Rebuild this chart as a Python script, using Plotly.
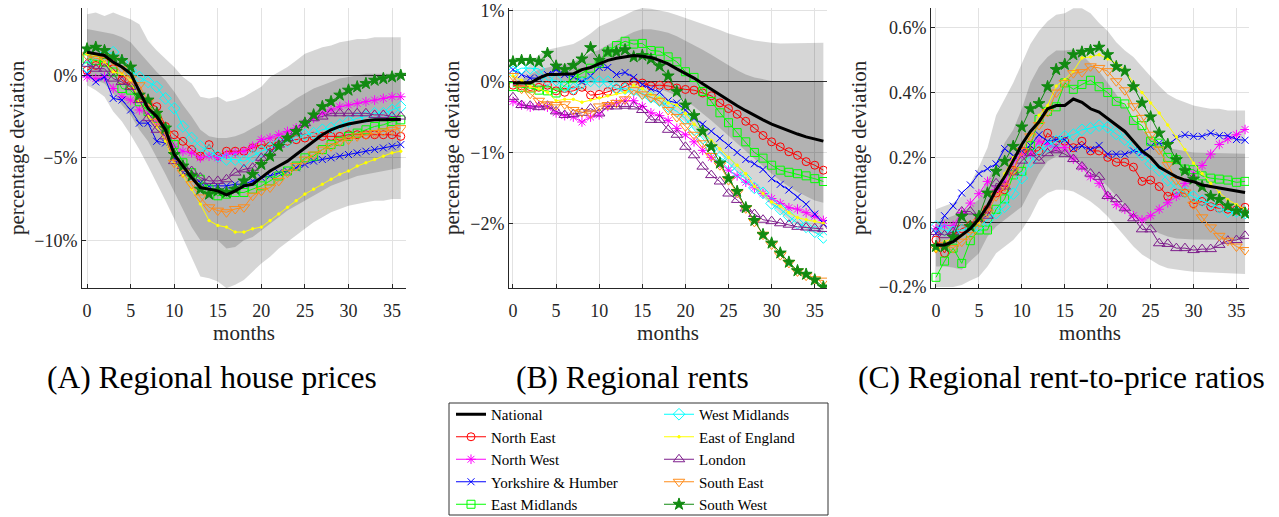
import plotly.graph_objects as go

months = list(range(37))

names = ["National", "North East", "North West", "Yorkshire & Humber", "East Midlands",
         "West Midlands", "East of England", "London", "South East", "South West"]

# ---------------- Panel A: regional house prices (%) ----------------
hp_national = [1.4, 1.3, 1.2, 0.8, 0.5, 0.1, -1.0, -2.0, -2.5, -3.3, -4.8, -5.5, -6.2, -6.8, -6.9, -7.0, -7.25, -7.0, -6.7, -6.6, -6.2, -5.8, -5.5, -5.2, -4.8, -4.4, -3.95, -3.6, -3.3, -3.1, -2.95, -2.85, -2.75, -2.7, -2.7, -2.68, -2.68]
hp_ne = [0.3, 0.6, 0.8, 0.4, -0.3, -0.6, -1.4, -1.7, -1.9, -3.1, -3.6, -4.0, -4.5, -4.9, -4.2, -4.9, -4.6, -4.6, -4.6, -4.4, -4.2, -4.3, -4.0, -4.0, -3.9, -3.8, -3.7, -3.7, -3.7, -3.7, -3.6, -3.6, -3.6, -3.6, -3.6, -3.6, -3.7]
hp_nw = [-0.1, -0.2, -0.1, -0.8, -1.3, -1.5, -2.1, -2.3, -2.8, -3.5, -4.3, -4.6, -4.7, -5.0, -4.9, -5.0, -4.8, -4.7, -4.6, -4.3, -3.9, -3.8, -3.6, -3.4, -3.2, -2.9, -2.6, -2.3, -2.1, -1.9, -1.8, -1.7, -1.6, -1.5, -1.4, -1.3, -1.3]
hp_yh = [0.1, -0.4, -0.1, -1.4, -1.5, -2.1, -2.9, -2.9, -4.0, -4.1, -5.0, -5.9, -6.2, -6.5, -6.7, -6.7, -6.7, -6.6, -6.6, -6.4, -6.2, -6.1, -5.9, -5.8, -5.6, -5.4, -5.2, -5.1, -5.0, -4.9, -4.8, -4.7, -4.6, -4.5, -4.4, -4.3, -4.2]
hp_em = [1.0, 0.9, 0.8, 0.2, -0.8, -0.9, -1.6, -2.2, -2.6, -3.3, -4.2, -5.3, -5.9, -6.3, -6.9, -7.3, -7.2, -7.1, -7.1, -6.9, -6.7, -6.4, -6.1, -5.8, -5.5, -5.0, -4.9, -4.5, -4.2, -4.0, -3.7, -3.5, -3.3, -3.1, -3.0, -2.8, -2.7]
hp_wm = [0.5, 1.3, 1.2, 1.4, 0.8, 0.3, -0.1, -0.4, -0.7, -1.4, -2.0, -3.1, -3.8, -4.3, -4.6, -4.9, -5.1, -5.1, -5.2, -4.9, -4.6, -4.4, -4.1, -4.0, -3.7, -3.6, -3.5, -3.3, -3.2, -3.0, -2.8, -2.6, -2.5, -2.3, -2.3, -2.1, -1.9]
hp_ee = [1.3, 1.2, 0.8, 0.2, 0.1, -0.3, -1.6, -2.5, -3.1, -4.0, -5.3, -6.1, -6.9, -7.8, -8.8, -9.1, -9.2, -9.5, -9.5, -9.3, -9.2, -8.8, -8.4, -8.0, -7.6, -7.2, -6.9, -6.6, -6.3, -6.0, -5.8, -5.5, -5.3, -5.1, -4.9, -4.7, -4.6]
hp_lon = [0.7, 0.4, 0.4, -0.2, -0.4, -0.7, -1.5, -2.6, -3.3, -3.7, -5.2, -5.5, -5.8, -6.2, -6.4, -6.4, -6.3, -5.9, -5.7, -5.6, -5.0, -4.7, -4.2, -3.8, -3.4, -2.9, -2.6, -2.5, -2.3, -2.3, -2.3, -2.3, -2.3, -2.4, -2.4, -2.5, -2.5]
hp_se = [1.2, 1.0, 1.1, 0.9, 0.4, -0.2, -0.6, -1.6, -2.8, -3.6, -5.3, -5.9, -6.6, -7.4, -8.0, -8.2, -8.3, -8.1, -8.0, -7.3, -7.0, -6.8, -6.4, -5.9, -5.5, -5.1, -4.8, -4.5, -4.3, -4.0, -3.9, -3.7, -3.6, -3.5, -3.4, -3.3, -3.2]
hp_sw = [1.6, 1.7, 1.5, 1.1, 0.9, 0.5, -1.2, -1.5, -2.3, -3.2, -4.8, -5.5, -6.1, -6.9, -7.2, -7.0, -7.1, -6.9, -6.4, -6.0, -5.4, -4.9, -4.3, -3.8, -3.4, -2.9, -2.4, -1.9, -1.6, -1.2, -0.9, -0.7, -0.5, -0.3, -0.2, -0.1, 0.0]
hp_outer_up = [3.7, 3.8, 3.6, 3.8, 3.6, 3.4, 3.1, 2.1, 1.5, 1.0, 0.5, -0.1, -0.5, -1.3, -1.4, -1.3, -1.6, -1.5, -1.3, -1.0, -0.7, -0.1, 0.2, 0.5, 0.9, 1.3, 1.5, 1.7, 1.8, 2.0, 2.1, 2.2, 2.2, 2.3, 2.3, 2.3, 2.3]
hp_inner_up = [2.8, 2.7, 2.6, 2.5, 2.3, 2.0, 1.4, 0.8, 0.2, -0.3, -1.0, -1.8, -2.5, -3.3, -3.7, -3.8, -3.8, -3.7, -3.5, -3.2, -2.9, -2.5, -2.1, -1.8, -1.4, -1.1, -0.8, -0.6, -0.4, -0.2, -0.1, 0.0, 0.1, 0.1, 0.1, 0.1, 0.1]
hp_inner_lo = [-0.2, -0.3, -0.5, -1.1, -1.8, -2.4, -3.3, -4.0, -5.0, -6.0, -7.0, -8.1, -9.2, -10.0, -10.0, -10.0, -10.5, -10.4, -10.0, -9.8, -9.4, -9.0, -8.6, -8.2, -7.9, -7.6, -7.3, -7.0, -6.7, -6.5, -6.3, -6.1, -6.0, -5.9, -5.8, -5.7, -5.6]
hp_outer_lo = [-0.6, -0.9, -1.3, -2.2, -2.8, -3.6, -4.5, -5.5, -6.5, -7.6, -8.7, -9.8, -11.0, -12.2, -12.3, -12.5, -12.9, -12.7, -12.4, -11.9, -11.4, -11.0, -10.5, -10.1, -9.7, -9.3, -8.9, -8.6, -8.3, -8.1, -7.9, -7.8, -7.7, -7.6, -7.6, -7.5, -7.5]

# ---------------- Panel B: regional rents (%) ----------------
r_national = [-0.02, -0.02, -0.02, 0.05, 0.1, 0.1, 0.11, 0.11, 0.17, 0.2, 0.25, 0.3, 0.33, 0.35, 0.37, 0.36, 0.34, 0.3, 0.25, 0.18, 0.12, 0.05, -0.03, -0.11, -0.19, -0.27, -0.34, -0.41, -0.48, -0.54, -0.6, -0.65, -0.7, -0.74, -0.78, -0.81, -0.84]
r_ne = [-0.05, -0.06, -0.07, -0.08, -0.05, -0.13, -0.15, -0.13, -0.08, -0.19, -0.18, -0.14, -0.1, -0.07, 0.0, -0.02, -0.06, -0.05, -0.06, -0.09, -0.11, -0.12, -0.16, -0.2, -0.3, -0.38, -0.46, -0.56, -0.66, -0.76, -0.85, -0.92, -0.99, -1.04, -1.13, -1.18, -1.25]
r_nw = [-0.28, -0.33, -0.36, -0.34, -0.36, -0.44, -0.48, -0.5, -0.57, -0.5, -0.47, -0.35, -0.3, -0.27, -0.27, -0.35, -0.44, -0.48, -0.55, -0.66, -0.75, -0.85, -0.97, -1.07, -1.15, -1.25, -1.33, -1.42, -1.5, -1.58, -1.65, -1.72, -1.78, -1.8, -1.85, -1.9, -1.96]
r_yh = [0.17, 0.1, 0.05, 0.05, 0.1, 0.17, 0.1, 0.07, 0.0, 0.08, 0.2, 0.2, 0.1, 0.13, 0.06, -0.04, -0.1, -0.15, -0.27, -0.3, -0.4, -0.52, -0.6, -0.7, -0.8, -0.9, -1.0, -1.1, -1.16, -1.24, -1.37, -1.45, -1.53, -1.63, -1.73, -1.87, -2.0]
r_em = [-0.07, -0.08, -0.09, -0.12, -0.13, -0.16, -0.06, 0.05, 0.12, 0.19, 0.26, 0.42, 0.51, 0.57, 0.53, 0.54, 0.44, 0.43, 0.35, 0.28, 0.14, 0.06, -0.14, -0.28, -0.44, -0.58, -0.72, -0.85, -1.0, -1.08, -1.18, -1.25, -1.28, -1.3, -1.33, -1.37, -1.41]
r_wm = [0.14, 0.19, 0.19, 0.18, 0.02, 0.02, -0.07, -0.1, -0.02, 0.01, 0.0, 0.0, -0.1, -0.1, -0.12, -0.17, -0.22, -0.27, -0.35, -0.42, -0.52, -0.68, -0.8, -0.95, -1.07, -1.15, -1.27, -1.37, -1.5, -1.57, -1.72, -1.8, -1.9, -2.0, -2.05, -2.12, -2.2]
r_ee = [0.08, 0.02, -0.07, -0.1, -0.15, -0.27, -0.25, -0.25, -0.29, -0.26, -0.23, -0.2, -0.17, -0.15, -0.05, -0.1, -0.18, -0.23, -0.3, -0.33, -0.45, -0.6, -0.7, -0.83, -0.95, -1.07, -1.18, -1.3, -1.48, -1.58, -1.7, -1.76, -1.85, -1.92, -1.95, -1.97, -2.0]
r_lon = [-0.22, -0.33, -0.34, -0.36, -0.34, -0.42, -0.47, -0.46, -0.44, -0.38, -0.45, -0.35, -0.35, -0.34, -0.35, -0.4, -0.54, -0.54, -0.68, -0.75, -0.92, -1.04, -1.2, -1.32, -1.41, -1.58, -1.67, -1.79, -1.87, -1.95, -1.97, -2.0, -2.02, -2.05, -2.06, -2.07, -2.08]
r_se = [0.08, -0.1, -0.17, -0.27, -0.32, -0.33, -0.32, -0.4, -0.43, -0.45, -0.35, -0.33, -0.3, -0.25, -0.12, -0.18, -0.22, -0.27, -0.4, -0.5, -0.63, -0.75, -0.87, -1.05, -1.18, -1.39, -1.57, -1.79, -1.98, -2.16, -2.3, -2.45, -2.56, -2.68, -2.74, -2.79, -2.81]
r_sw = [0.28, 0.3, 0.3, 0.28, 0.4, 0.22, 0.17, 0.23, 0.32, 0.48, 0.3, 0.42, 0.42, 0.45, 0.35, 0.37, 0.32, 0.22, 0.08, -0.14, -0.33, -0.48, -0.7, -0.92, -1.15, -1.37, -1.55, -1.78, -1.96, -2.16, -2.28, -2.42, -2.55, -2.67, -2.72, -2.8, -2.9]
r_outer_up = [0.05, 0.1, 0.25, 0.38, 0.45, 0.48, 0.5, 0.53, 0.6, 0.68, 0.78, 0.83, 0.88, 0.94, 1.0, 1.04, 1.03, 1.01, 0.98, 0.94, 0.9, 0.86, 0.82, 0.78, 0.73, 0.68, 0.64, 0.61, 0.58, 0.56, 0.55, 0.54, 0.54, 0.54, 0.54, 0.55, 0.55]
r_inner_up = [0.0, 0.03, 0.1, 0.17, 0.2, 0.22, 0.25, 0.28, 0.33, 0.4, 0.45, 0.52, 0.58, 0.65, 0.7, 0.74, 0.74, 0.72, 0.69, 0.64, 0.58, 0.52, 0.45, 0.38, 0.3, 0.23, 0.16, 0.1, 0.06, 0.03, 0.01, 0.0, 0.0, 0.0, 0.0, 0.0, 0.0]
r_inner_lo = [-0.02, -0.03, -0.03, -0.03, -0.03, -0.03, -0.03, -0.03, -0.03, -0.03, -0.02, -0.02, -0.02, -0.02, -0.02, -0.04, -0.07, -0.1, -0.15, -0.2, -0.27, -0.35, -0.45, -0.55, -0.65, -0.76, -0.87, -0.98, -1.09, -1.2, -1.3, -1.4, -1.48, -1.56, -1.62, -1.68, -1.71]
r_outer_lo = [-0.05, -0.08, -0.1, -0.12, -0.13, -0.13, -0.13, -0.13, -0.13, -0.13, -0.13, -0.13, -0.14, -0.15, -0.18, -0.22, -0.27, -0.33, -0.4, -0.48, -0.57, -0.67, -0.78, -0.9, -1.02, -1.14, -1.27, -1.4, -1.52, -1.64, -1.75, -1.86, -1.95, -2.03, -2.1, -2.14, -2.16]

# ---------------- Panel C: regional rent-to-price ratios (%) ----------------
c_national = [-0.07, -0.07, -0.06, -0.04, -0.02, 0.01, 0.05, 0.1, 0.14, 0.19, 0.24, 0.28, 0.31, 0.35, 0.36, 0.36, 0.38, 0.37, 0.35, 0.34, 0.32, 0.3, 0.28, 0.25, 0.22, 0.2, 0.17, 0.155, 0.14, 0.13, 0.125, 0.115, 0.11, 0.105, 0.1, 0.095, 0.092]
c_ne = [-0.055, -0.095, -0.04, -0.02, -0.01, 0.01, 0.04, 0.09, 0.1, 0.16, 0.22, 0.22, 0.22, 0.275, 0.25, 0.25, 0.23, 0.25, 0.22, 0.22, 0.2, 0.185, 0.185, 0.17, 0.126, 0.13, 0.11, 0.08, 0.09, 0.09, 0.057, 0.064, 0.048, 0.043, 0.04, 0.038, 0.046]
c_nw = [-0.02, -0.01, -0.01, 0.03, 0.059, 0.088, 0.126, 0.1, 0.12, 0.19, 0.21, 0.21, 0.25, 0.24, 0.23, 0.23, 0.195, 0.17, 0.14, 0.12, 0.08, 0.054, 0.04, 0.02, 0.007, 0.02, 0.04, 0.06, 0.08, 0.12, 0.15, 0.175, 0.21, 0.24, 0.257, 0.27, 0.286]
c_yh = [-0.034, 0.02, 0.05, 0.09, 0.115, 0.15, 0.165, 0.18, 0.227, 0.205, 0.22, 0.237, 0.27, 0.25, 0.255, 0.255, 0.227, 0.235, 0.224, 0.237, 0.21, 0.21, 0.21, 0.22, 0.215, 0.234, 0.244, 0.238, 0.26, 0.27, 0.265, 0.265, 0.275, 0.267, 0.267, 0.255, 0.253]
c_em = [-0.17, -0.12, -0.08, -0.127, -0.057, -0.024, -0.024, 0.04, 0.072, 0.146, 0.157, 0.236, 0.317, 0.342, 0.356, 0.43, 0.41, 0.425, 0.438, 0.418, 0.4, 0.373, 0.365, 0.314, 0.298, 0.25, 0.244, 0.2, 0.193, 0.164, 0.162, 0.143, 0.136, 0.133, 0.13, 0.123, 0.126]
c_wm = [-0.013, -0.024, -0.029, -0.024, -0.024, -0.013, 0.007, 0.028, 0.048, 0.088, 0.136, 0.186, 0.22, 0.234, 0.25, 0.265, 0.27, 0.285, 0.29, 0.298, 0.293, 0.272, 0.255, 0.234, 0.208, 0.18, 0.16, 0.13, 0.102, 0.092, 0.079, 0.066, 0.058, 0.046, 0.033, 0.033, 0.028]
c_ee = [-0.09, -0.06, -0.05, -0.04, -0.02, 0.0, 0.05, 0.1, 0.15, 0.2, 0.24, 0.27, 0.33, 0.36, 0.42, 0.44, 0.466, 0.507, 0.51, 0.517, 0.504, 0.49, 0.47, 0.43, 0.4, 0.368, 0.337, 0.3, 0.263, 0.224, 0.182, 0.15, 0.12, 0.092, 0.069, 0.054, 0.04]
c_lon = [-0.03, -0.04, -0.03, 0.033, 0.033, 0.01, 0.02, 0.12, 0.11, 0.154, 0.19, 0.213, 0.19, 0.213, 0.222, 0.21, 0.195, 0.172, 0.15, 0.14, 0.081, 0.071, 0.043, 0.012, -0.022, -0.022, -0.065, -0.067, -0.08, -0.08, -0.086, -0.083, -0.083, -0.07, -0.057, -0.055, -0.042]
c_se = [-0.08, -0.07, -0.08, -0.06, -0.04, 0.0, 0.03, 0.08, 0.11, 0.16, 0.22, 0.265, 0.3, 0.34, 0.4, 0.43, 0.46, 0.463, 0.481, 0.476, 0.466, 0.435, 0.407, 0.358, 0.322, 0.27, 0.224, 0.177, 0.13, 0.092, 0.054, 0.015, -0.016, -0.042, -0.057, -0.075, -0.086]
c_sw = [-0.075, -0.075, -0.046, 0.018, -0.013, 0.018, 0.09, 0.157, 0.188, 0.234, 0.294, 0.35, 0.366, 0.418, 0.471, 0.487, 0.517, 0.525, 0.53, 0.54, 0.517, 0.48, 0.466, 0.418, 0.368, 0.325, 0.275, 0.24, 0.193, 0.159, 0.133, 0.11, 0.08, 0.07, 0.05, 0.035, 0.028]
c_outer_up = [0.04, 0.05, 0.06, 0.08, 0.12, 0.17, 0.23, 0.33, 0.38, 0.43, 0.49, 0.55, 0.59, 0.62, 0.64, 0.645, 0.66, 0.66, 0.645, 0.615, 0.59, 0.555, 0.53, 0.51, 0.48, 0.45, 0.42, 0.395, 0.38, 0.37, 0.36, 0.355, 0.35, 0.35, 0.345, 0.345, 0.345]
c_inner_up = [0.0, 0.01, 0.02, 0.03, 0.05, 0.07, 0.13, 0.18, 0.245, 0.285, 0.35, 0.43, 0.48, 0.51, 0.53, 0.53, 0.533, 0.517, 0.49, 0.466, 0.43, 0.394, 0.358, 0.32, 0.285, 0.26, 0.244, 0.229, 0.224, 0.22, 0.215, 0.214, 0.213, 0.212, 0.212, 0.211, 0.211]
c_inner_lo = [-0.137, -0.137, -0.14, -0.147, -0.12, -0.096, -0.044, -0.013, 0.007, 0.028, 0.048, 0.1, 0.15, 0.188, 0.203, 0.203, 0.198, 0.18, 0.157, 0.136, 0.11, 0.08, 0.054, 0.028, 0.002, -0.019, -0.034, -0.044, -0.05, -0.052, -0.053, -0.054, -0.054, -0.055, -0.055, -0.055, -0.055]
c_outer_lo = [-0.2, -0.2, -0.2, -0.194, -0.18, -0.168, -0.137, -0.096, -0.075, -0.055, -0.024, 0.018, 0.07, 0.09, 0.1, 0.1, 0.095, 0.08, 0.064, 0.043, 0.018, -0.013, -0.044, -0.075, -0.1, -0.116, -0.132, -0.142, -0.147, -0.15, -0.153, -0.155, -0.156, -0.157, -0.158, -0.159, -0.16]

panels = [
    dict(series=[hp_national, hp_ne, hp_nw, hp_yh, hp_em, hp_wm, hp_ee, hp_lon, hp_se, hp_sw],
         bands=(hp_outer_up, hp_outer_lo, hp_inner_up, hp_inner_lo)),
    dict(series=[r_national, r_ne, r_nw, r_yh, r_em, r_wm, r_ee, r_lon, r_se, r_sw],
         bands=(r_outer_up, r_outer_lo, r_inner_up, r_inner_lo)),
    dict(series=[c_national, c_ne, c_nw, c_yh, c_em, c_wm, c_ee, c_lon, c_se, c_sw],
         bands=(c_outer_up, c_outer_lo, c_inner_up, c_inner_lo)),
]

styles = {
    "National": dict(color="#000000", symbol=None, size=0, lw=3),
    "North East": dict(color="#ff0000", symbol="circle-open", size=8, lw=1),
    "North West": dict(color="#ff00ff", symbol="asterisk-open", size=8, lw=1),
    "Yorkshire & Humber": dict(color="#0000ff", symbol="x-thin-open", size=7, lw=1),
    "East Midlands": dict(color="#00ff00", symbol="square-open", size=8, lw=1),
    "West Midlands": dict(color="#00ffff", symbol="diamond-open", size=9, lw=1),
    "East of England": dict(color="#ffff00", symbol="circle", size=2.5, lw=1),
    "London": dict(color="#7e1e8c", symbol="triangle-up-open", size=10, lw=1),
    "South East": dict(color="#ff8c1a", symbol="triangle-down-open", size=10, lw=1),
    "South West": dict(color="#118a11", symbol="star", size=9, lw=1),
}

W, H = 1279, 517
FONT = "Liberation Serif, Times New Roman, DejaVu Serif, serif"
TXT = "#262626"

# pixel geometry of the three plot areas
xpix = [(82, 406), (509, 827), (931, 1249)]
ypix = (8, 288)
xranges = [[-0.58, 36.6], [-0.46, 36.42], [-0.58, 36.46]]
yranges = [[-12.89, 4.08], [-2.914, 1.04], [-0.203, 0.661]]
ytickvals = [[-10, -5, 0], [-2, -1, 0, 1], [-0.2, 0, 0.2, 0.4, 0.6]]
yticktext = [["\u221210%", "\u22125%", "0%"], ["\u22122%", "\u22121%", "0%", "1%"],
             ["\u22120.2%", "0%", "0.2%", "0.4%", "0.6%"]]
ytitle_x = [17, 452, 859]

fig = go.Figure()

for p, panel in enumerate(panels):
    xa = "x" if p == 0 else f"x{p+1}"
    ya = "y" if p == 0 else f"y{p+1}"
    o_up, o_lo, i_up, i_lo = panel["bands"]
    for up, lo, alpha in [(o_up, o_lo, 0.16), (i_up, i_lo, 0.17)]:
        fig.add_trace(go.Scatter(
            x=months + months[::-1], y=up + lo[::-1], fill="toself",
            fillcolor=f"rgba(0,0,0,{alpha})", line=dict(width=0), mode="lines",
            hoverinfo="skip", showlegend=False, xaxis=xa, yaxis=ya))
    order = list(range(1, 10)) + [0]
    for k in order:
        name = names[k]
        st = styles[name]
        legend = "legend" if k < 5 else "legend2"
        if st["symbol"] is None:
            mode = "lines"
            marker = None
        else:
            mode = "lines+markers"
            marker = dict(symbol=st["symbol"], size=st["size"], color=st["color"],
                          line=dict(color=st["color"], width=1))
        fig.add_trace(go.Scatter(
            x=months, y=panel["series"][k], mode=mode, name=name,
            line=dict(color=st["color"], width=st["lw"]), marker=marker,
            showlegend=(p == 0), legend=legend, legendrank=k + 1,
            xaxis=xa, yaxis=ya))

layout = dict(
    width=W, height=H, margin=dict(l=0, r=0, t=0, b=0, autoexpand=False),
    plot_bgcolor="white", paper_bgcolor="white",
    font=dict(family=FONT, color=TXT),
)

for p in range(3):
    xk = "xaxis" if p == 0 else f"xaxis{p+1}"
    yk = "yaxis" if p == 0 else f"yaxis{p+1}"
    x0, x1 = xpix[p]
    layout[xk] = dict(
        domain=[x0 / W, x1 / W], range=xranges[p], anchor="y" if p == 0 else f"y{p+1}",
        tickvals=[0, 5, 10, 15, 20, 25, 30, 35], ticks="inside", ticklen=4,
        tickcolor=TXT, showline=True, linecolor=TXT, linewidth=1,
        showgrid=True, gridcolor="#e2e2e2", gridwidth=1, zeroline=False,
        tickfont=dict(family=FONT, size=18, color=TXT), ticklabelstandoff=6,
        automargin=False,
        title=dict(text="months", font=dict(family=FONT, size=21, color=TXT), standoff=0),
    )
    layout[yk] = dict(
        domain=[1 - ypix[1] / H, 1 - ypix[0] / H], range=yranges[p],
        anchor="x" if p == 0 else f"x{p+1}",
        tickvals=ytickvals[p], ticktext=yticktext[p], ticks="inside", ticklen=4,
        tickcolor=TXT, showline=True, linecolor=TXT, linewidth=1,
        showgrid=True, gridcolor="#e2e2e2", gridwidth=1,
        zeroline=True, zerolinecolor="#333333", zerolinewidth=1,
        tickfont=dict(family=FONT, size=18, color=TXT), automargin=False,
    )

legend_common = dict(
    orientation="v", xanchor="left", yanchor="top", bgcolor="rgba(0,0,0,0)",
    borderwidth=0, font=dict(family=FONT, size=15, color="#000000"),
    tracegroupgap=0, itemwidth=30, xref="container", yref="container",
)
layout["legend"] = dict(x=451 / W, y=1 - 398 / H, **legend_common)
layout["legend2"] = dict(x=659 / W, y=1 - 398 / H, **legend_common)

layout["shapes"] = [dict(type="rect", xref="paper", yref="paper",
                         x0=449 / W, x1=828 / W, y0=1 - 515 / H, y1=1 - 403 / H,
                         line=dict(color="#333333", width=1), fillcolor="rgba(0,0,0,0)")]

captions = [("(A) Regional house prices", 212), ("(B) Regional rents", 632),
            ("(C) Regional rent-to-price ratios", 1061)]
annotations = [dict(text=t, x=cx / W, y=1 - 377 / H, xref="paper", yref="paper",
                    xanchor="center", yanchor="middle", showarrow=False,
                    font=dict(family=FONT, size=31.5, color="#000000"))
               for t, cx in captions]
# y-axis titles
for tx in ytitle_x:
    annotations.append(dict(text="percentage deviation", x=tx / W, y=1 - 148 / H,
                            xref="paper", yref="paper", xanchor="center", yanchor="middle",
                            textangle=-90, showarrow=False,
                            font=dict(family=FONT, size=21, color=TXT)))
layout["annotations"] = annotations

fig.update_layout(**layout)
fig.write_html("out.html")
